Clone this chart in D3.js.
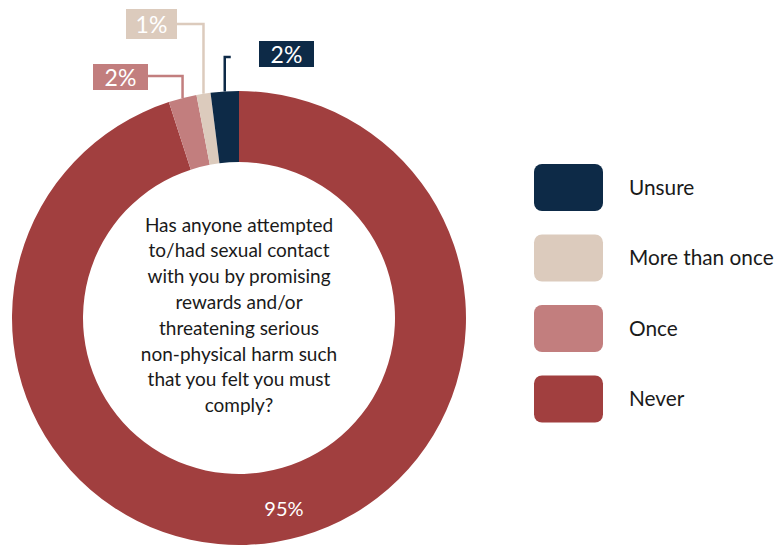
<!DOCTYPE html>
<html>
<head>
<meta charset="utf-8">
<script src="https://cdn.jsdelivr.net/npm/d3@7"></script>
<style>
  html, body { margin: 0; padding: 0; background: #ffffff; }
  svg text { font-family: Lato, "Open Sans", sans-serif; }
</style>
</head>
<body>
<svg id="chart" width="777" height="546"></svg>
<script>
// Survey responses (percent of respondents)
const categories = ["Unsure", "More than once", "Once", "Never"];
const values = [2, 1, 2, 95];
const colors = ["#0d2a47", "#dccbbd", "#c27e7e", "#a13f3f"];
const question = [
  "Has anyone attempted",
  "to/had sexual contact",
  "with you by promising",
  "rewards and/or",
  "threatening serious",
  "non-physical harm such",
  "that you felt you must",
  "comply?"
];

const svg = d3.select("#chart");
const cx = 239, cy = 318, outerR = 227, innerR = 156;

const data = categories.map((c, i) => ({ category: c, value: values[i], color: colors[i] }));

// Slices run clockwise from 12 o'clock: Never first, Unsure last
const pie = d3.pie().sort(null).value(d => d.value);
const arcs = pie(data.slice().reverse());
const arc = d3.arc().innerRadius(innerR).outerRadius(outerR);

const g = svg.append("g").attr("transform", `translate(${cx},${cy})`);
g.selectAll("path.slice")
  .data(arcs)
  .join("path")
  .attr("class", "slice")
  .attr("d", arc)
  .attr("fill", d => d.data.color);

// Question in the hole
const qText = g.append("text")
  .attr("text-anchor", "middle")
  .attr("fill", "#1a1a1a")
  .attr("font-size", 19);
question.forEach((line, i) => {
  qText.append("tspan")
    .attr("x", 0)
    .attr("y", -93 + i * 25.8)
    .attr("dy", "0.35em")
    .text(line);
});

// Value label inside the large slice
const big = arcs.find(a => a.data.category === "Never");
const bigPos = arc.centroid(big);
g.append("text")
  .attr("x", bigPos[0] + 15)
  .attr("y", bigPos[1] + 2)
  .attr("text-anchor", "middle")
  .attr("dy", "0.35em")
  .attr("fill", "#ffffff")
  .attr("font-size", 20)
  .text(d3.format("d")(big.data.value) + "%");

// Callout boxes for the thin slices (box placement in page coordinates)
const callouts = {
  "Unsure":         { x: 259, y: 41, w: 55, h: 26, elbowY: 57, side: "right" },
  "More than once": { x: 126, y: 9,  w: 51, h: 30, elbowY: 24, side: "left" },
  "Once":           { x: 93,  y: 64, w: 55, h: 26, elbowY: 76, side: "left" }
};

arcs.filter(a => callouts[a.data.category]).forEach(a => {
  const c = callouts[a.data.category];
  const mid = (a.startAngle + a.endAngle) / 2;
  const px = cx + outerR * Math.sin(mid);
  const py = cy - outerR * Math.cos(mid);
  let pts;
  if (c.side === "left") {
    pts = [[px, py], [px, c.elbowY], [c.x + c.w, c.elbowY]];
  } else {
    pts = [[px, py], [px, c.elbowY], [px + 6, c.elbowY]];
  }
  svg.append("path")
    .attr("d", d3.line()(pts))
    .attr("fill", "none")
    .attr("stroke", a.data.color)
    .attr("stroke-width", 2.5);
  svg.append("rect")
    .attr("x", c.x).attr("y", c.y)
    .attr("width", c.w).attr("height", c.h)
    .attr("fill", a.data.color);
  svg.append("text")
    .attr("x", c.x + c.w / 2)
    .attr("y", c.y + c.h / 2 + 1)
    .attr("text-anchor", "middle")
    .attr("dy", "0.35em")
    .attr("fill", "#ffffff")
    .attr("font-size", 23)
    .text(a.data.value + "%");
});

// Legend
const legendY = d3.scalePoint().domain(categories).range([187.5, 399]);
const legend = svg.append("g");
const items = legend.selectAll("g")
  .data(data)
  .join("g")
  .attr("transform", d => `translate(534,${legendY(d.category)})`);
items.append("rect")
  .attr("x", 0).attr("y", -23.5)
  .attr("width", 69).attr("height", 47)
  .attr("rx", 8).attr("ry", 8)
  .attr("fill", d => d.color);
items.append("text")
  .attr("x", 95)
  .attr("y", 0)
  .attr("dy", "0.35em")
  .attr("fill", "#1a1a1a")
  .attr("font-size", 20.8)
  .text(d => d.category);
</script>
</body>
</html>
